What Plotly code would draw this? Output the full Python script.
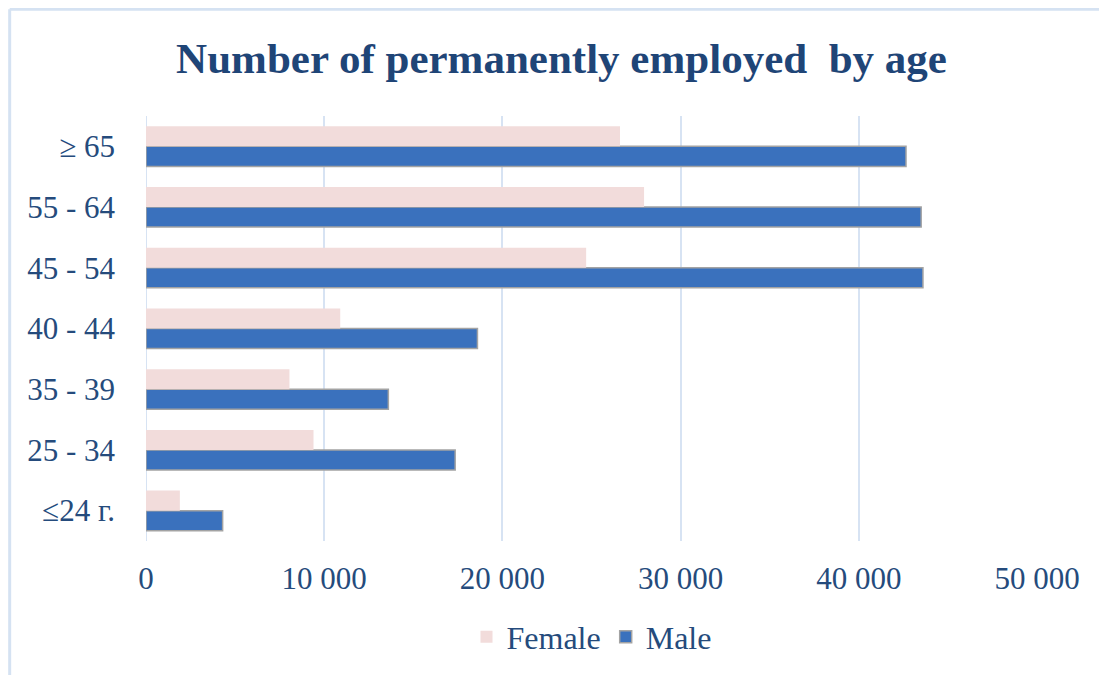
import plotly.graph_objects as go

# age groups, bottom to top
age_groups = ["≤24 г.", "25 - 34", "35 - 39", "40 - 44", "45 - 54", "55 - 64", "≥ 65"]
female = [1900, 9400, 8050, 10900, 24700, 27950, 26600]
male = [4300, 17350, 13600, 18600, 43600, 43500, 42650]

x_ticks = [0, 10000, 20000, 30000, 40000, 50000]
x_tick_labels = ["0", "10 000", "20 000", "30 000", "40 000", "50 000"]

text_color = "#254b7c"
grid_color = "#d7e3f3"
font_family = "Liberation Serif, Times New Roman, serif"

fig = go.Figure()

# male first so that female sits on top inside each group
fig.add_trace(go.Bar(
    y=age_groups, x=male, name="Male", orientation="h",
    marker=dict(color="#3a71bd", line=dict(color="#a3a3a3", width=1.5)),
))
fig.add_trace(go.Bar(
    y=age_groups, x=female, name="Female", orientation="h",
    marker=dict(color="#f2dcdb", line=dict(width=0)),
))

fig.update_layout(
    width=1107, height=675,
    paper_bgcolor="white", plot_bgcolor="white",
    margin=dict(l=138, r=78, t=108, b=142),
    barmode="group", bargap=0.34, bargroupgap=0,
    font=dict(family=font_family, color=text_color, size=31),
    title=dict(
        text="<b>Number of permanently employed  by age</b>",
        x=0.5, xanchor="center", y=0.926, yanchor="middle",
        font=dict(family=font_family, size=43, color="#1f4577"),
    ),
    legend=dict(
        orientation="h", x=0.5, xanchor="center", y=-0.226, yanchor="middle",
        traceorder="reversed", font=dict(size=32, color=text_color),
        itemwidth=30,
    ),
    showlegend=True,
)

fig.update_xaxes(
    range=[0, 50000], tickvals=x_ticks, ticktext=x_tick_labels,
    showgrid=True, gridcolor=grid_color, gridwidth=2,
    zeroline=False, showline=False, ticks="",
    tickfont=dict(size=31, color=text_color), ticklabelstandoff=16,
)
fig.update_yaxes(
    showgrid=False, zeroline=False, showline=False, ticks="",
    tickfont=dict(size=31, color=text_color), ticklabelstandoff=30,
)

# left grid line at zero drawn like the others
fig.add_shape(type="line", xref="x", yref="paper", x0=0, x1=0, y0=0, y1=1,
              line=dict(color=grid_color, width=2), layer="below")

# chart frame (top and left edges visible)
fig.add_shape(type="line", xref="paper", yref="paper", x0=-0.153, x1=1.09, y0=1.251, y1=1.251,
              line=dict(color="#d5e2f2", width=3))
fig.add_shape(type="line", xref="paper", yref="paper", x0=-0.153, x1=-0.153, y0=1.251, y1=-0.34,
              line=dict(color="#d5e2f2", width=3))

fig.write_html("out.html")
